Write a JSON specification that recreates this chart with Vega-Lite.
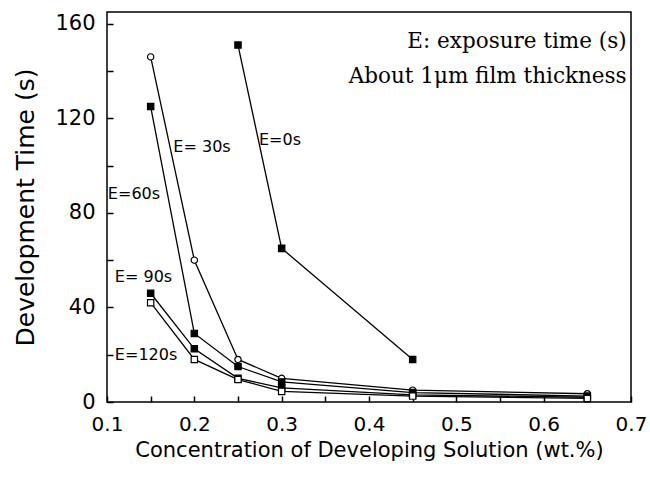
{
  "$schema": "https://vega.github.io/schema/vega-lite/v6.json",
  "width": 524,
  "height": 390,
  "autosize": "none",
  "padding": {"left": 107, "top": 12, "right": 19, "bottom": 76},
  "background": "white",
  "config": {
    "view": {"stroke": "black", "strokeWidth": 1.5},
    "font": "DejaVu Sans"
  },
  "datasets": {
    "curves": [
      {"conc": 0.25, "time": 151, "series": "E=0s"},
      {"conc": 0.3, "time": 65, "series": "E=0s"},
      {"conc": 0.45, "time": 18, "series": "E=0s"},
      {"conc": 0.15, "time": 146, "series": "E=30s"},
      {"conc": 0.2, "time": 60, "series": "E=30s"},
      {"conc": 0.25, "time": 18, "series": "E=30s"},
      {"conc": 0.3, "time": 10, "series": "E=30s"},
      {"conc": 0.45, "time": 5, "series": "E=30s"},
      {"conc": 0.65, "time": 3.5, "series": "E=30s"},
      {"conc": 0.15, "time": 125, "series": "E=60s"},
      {"conc": 0.2, "time": 29, "series": "E=60s"},
      {"conc": 0.25, "time": 15, "series": "E=60s"},
      {"conc": 0.3, "time": 8.5, "series": "E=60s"},
      {"conc": 0.45, "time": 4, "series": "E=60s"},
      {"conc": 0.65, "time": 2.5, "series": "E=60s"},
      {"conc": 0.15, "time": 46, "series": "E=90s"},
      {"conc": 0.2, "time": 22.5, "series": "E=90s"},
      {"conc": 0.25, "time": 10, "series": "E=90s"},
      {"conc": 0.3, "time": 6, "series": "E=90s"},
      {"conc": 0.45, "time": 3, "series": "E=90s"},
      {"conc": 0.65, "time": 2, "series": "E=90s"},
      {"conc": 0.15, "time": 42, "series": "E=120s"},
      {"conc": 0.2, "time": 18, "series": "E=120s"},
      {"conc": 0.25, "time": 9.5, "series": "E=120s"},
      {"conc": 0.3, "time": 4.5, "series": "E=120s"},
      {"conc": 0.45, "time": 2.5, "series": "E=120s"},
      {"conc": 0.65, "time": 1.5, "series": "E=120s"}
    ],
    "labels": [
      {"conc": 0.274, "time": 111, "text": "E=0s"},
      {"conc": 0.176, "time": 108, "text": "E= 30s"},
      {"conc": 0.101, "time": 88, "text": "E=60s"},
      {"conc": 0.109, "time": 53, "text": "E= 90s"},
      {"conc": 0.109, "time": 20, "text": "E=120s"}
    ],
    "notes": [
      {"conc": 0.695, "time": 152.5, "text": "E: exposure time (s)"},
      {"conc": 0.695, "time": 137.5, "text": "About 1μm film thickness"}
    ]
  },
  "encoding": {
    "x": {
      "field": "conc", "type": "quantitative",
      "scale": {"domain": [0.1, 0.7], "nice": false, "zero": false},
      "axis": {
        "title": "Concentration of Developing Solution (wt.%)",
        "values": [0.1, 0.15, 0.2, 0.25, 0.3, 0.35, 0.4, 0.45, 0.5, 0.55, 0.6, 0.65, 0.7],
        "labelExpr": "round(datum.value*100) % 10 == 0 ? format(datum.value, '.1f') : ''",
        "grid": false, "domain": false, "offset": -6,
        "tickColor": "black", "tickSize": 6, "tickWidth": 1.5,
        "labelPadding": 12, "labelFontSize": 20, "labelColor": "black", "labelFont": "DejaVu Sans",
        "titleFontSize": 21, "titleFont": "DejaVu Sans", "titleFontWeight": "normal", "titleColor": "black", "titlePadding": 5,
        "labelFlush": false, "labelOverlap": false
      }
    },
    "y": {
      "field": "time", "type": "quantitative",
      "scale": {"domain": [0, 165], "nice": false},
      "axis": {
        "title": "Development Time (s)",
        "values": [0, 20, 40, 60, 80, 100, 120, 140, 160],
        "labelExpr": "datum.value % 40 == 0 ? datum.label : ''",
        "grid": false, "domain": false, "offset": -6,
        "tickColor": "black", "tickSize": 6, "tickWidth": 1.5,
        "labelPadding": 12, "labelFontSize": 21, "labelColor": "black", "labelFont": "DejaVu Sans",
        "titleFontSize": 25, "titleFont": "DejaVu Sans", "titleFontWeight": "normal", "titleColor": "black", "titlePadding": 16,
        "labelOverlap": false
      }
    }
  },
  "layer": [
    {
      "data": {"name": "curves"},
      "mark": {"type": "line", "color": "black", "strokeWidth": 1.3},
      "encoding": {"detail": {"field": "series"}}
    },
    {
      "data": {"name": "curves"},
      "mark": {"type": "point", "size": 40, "strokeWidth": 1.2, "opacity": 1},
      "encoding": {
        "shape": {
          "field": "series", "type": "nominal", "legend": null,
          "scale": {"domain": ["E=0s", "E=30s", "E=60s", "E=90s", "E=120s"], "range": ["square", "circle", "square", "square", "square"]}
        },
        "fill": {
          "field": "series", "type": "nominal", "legend": null,
          "scale": {"domain": ["E=0s", "E=30s", "E=60s", "E=90s", "E=120s"], "range": ["black", "white", "black", "black", "white"]}
        },
        "stroke": {"value": "black"}
      }
    },
    {
      "data": {"name": "labels"},
      "mark": {"type": "text", "align": "left", "baseline": "middle", "fontSize": 16, "font": "DejaVu Sans", "color": "black"},
      "encoding": {"text": {"field": "text"}}
    },
    {
      "data": {"name": "notes"},
      "mark": {"type": "text", "align": "right", "baseline": "middle", "fontSize": 21.5, "font": "DejaVu Serif", "color": "black"},
      "encoding": {"text": {"field": "text"}}
    }
  ]
}
